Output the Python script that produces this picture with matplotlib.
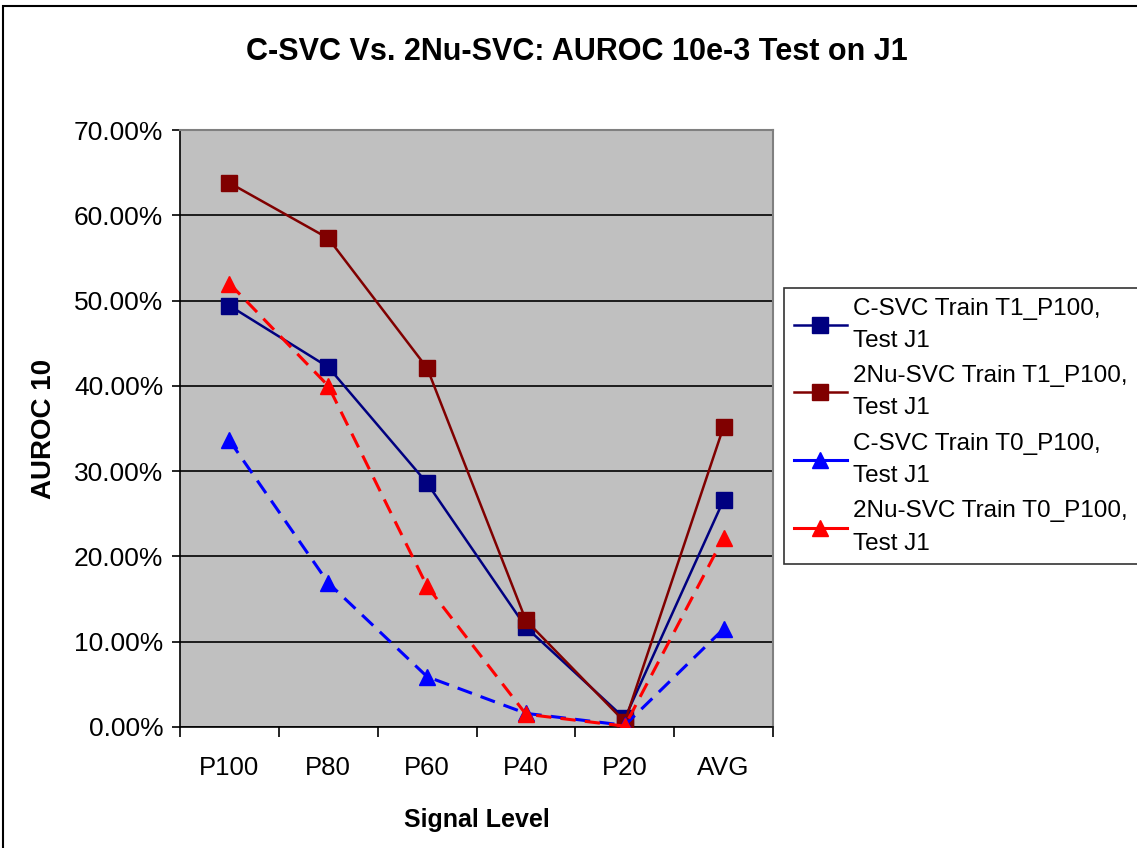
import numpy as np
import matplotlib
matplotlib.use("Agg")
import matplotlib.pyplot as plt
from matplotlib.patches import Rectangle
from matplotlib.ticker import FuncFormatter, FixedLocator

plt.rcParams['font.family'] = ['Liberation Sans', 'DejaVu Sans']

levels = ["P100", "P80", "P60", "P40", "P20", "AVG"]

# AUROC 10 values (fractions)
csvc_t1 = [0.494, 0.422, 0.286, 0.117, 0.010, 0.266]
nu_t1 = [0.638, 0.573, 0.421, 0.125, 0.006, 0.352]
csvc_t0 = [0.336, 0.169, 0.059, 0.016, 0.002, 0.115]
nu_t0 = [0.520, 0.400, 0.165, 0.015, 0.001, 0.222]

labels = ["C-SVC Train T1_P100,\nTest J1",
          "2Nu-SVC Train T1_P100,\nTest J1",
          "C-SVC Train T0_P100,\nTest J1",
          "2Nu-SVC Train T0_P100,\nTest J1"]

fig = plt.figure(figsize=(11.37, 8.48), dpi=100)
ax = fig.add_axes([180/1137, 1-727/848, 593/1137, 597/848])
ax.set_facecolor('#c0c0c0')

x = np.arange(len(levels))
dash = (0, (5, 3))
ax.plot(x, csvc_t1, color='#000080', lw=1.8, marker='s', ms=11,
        label=labels[0], zorder=3)
ax.plot(x, nu_t1, color='#800000', lw=1.8, marker='s', ms=11,
        label=labels[1], zorder=3)
ax.plot(x, csvc_t0, color='#0000ff', lw=2.2, ls=dash, marker='^', ms=12,
        label=labels[2], zorder=3)
ax.plot(x, nu_t0, color='#ff0000', lw=2.2, ls=dash, marker='^', ms=12,
        label=labels[3], zorder=3)

ax.set_xlim(-0.5, len(levels) - 0.5)
ax.set_ylim(0, 0.70)
ax.set_yticks(np.arange(0, 0.71, 0.10))
ax.yaxis.set_major_formatter(FuncFormatter(lambda v, p: f"{v*100:.2f}%"))
ax.grid(axis='y', color='black', lw=1.2, zorder=1)
ax.set_axisbelow(True)

ax.set_xticks(x)
ax.set_xticklabels(levels)
ax.xaxis.set_minor_locator(FixedLocator(np.arange(-0.5, len(levels), 1.0)))
ax.tick_params(axis='x', which='major', length=0, pad=21, labelsize=18.5)
ax.tick_params(axis='x', which='minor', length=7, width=1.2, direction='out')
ax.tick_params(axis='y', length=6, width=1.2, labelsize=19, pad=6)

for side in ['top', 'right']:
    ax.spines[side].set_color('#808080')
    ax.spines[side].set_linewidth(1.5)
for side in ['left', 'bottom']:
    ax.spines[side].set_color('black')
    ax.spines[side].set_linewidth(1.2)

ax.set_xlabel("Signal Level", fontsize=18, fontweight='bold', labelpad=20)
ax.set_ylabel("AUROC 10", fontsize=20, fontweight='bold', labelpad=12)
fig.text(577/1137, 1 - 52/848, "C-SVC Vs. 2Nu-SVC: AUROC 10e-3 Test on J1",
         ha='center', va='center', fontsize=22, fontweight='bold')

leg = fig.legend(loc='upper left', bbox_to_anchor=(784/1137, 1-288/848),
                 fontsize=17.5, frameon=True, fancybox=False, handlelength=2.2,
                 borderaxespad=0, labelspacing=0.55, handletextpad=0.25,
                 borderpad=0.4)
leg.get_frame().set_edgecolor('black')
leg.get_frame().set_linewidth(1.2)
for line in leg.get_lines():
    line.set_linestyle('-')
for t in leg.get_texts():
    t.set_linespacing(1.6)

fig.patches.append(Rectangle((3/1137, -0.05), 1.1, 1.05 - 6/848,
                             transform=fig.transFigure, fill=False,
                             edgecolor='black', lw=1.5))

fig.savefig("out.png", dpi=100)
